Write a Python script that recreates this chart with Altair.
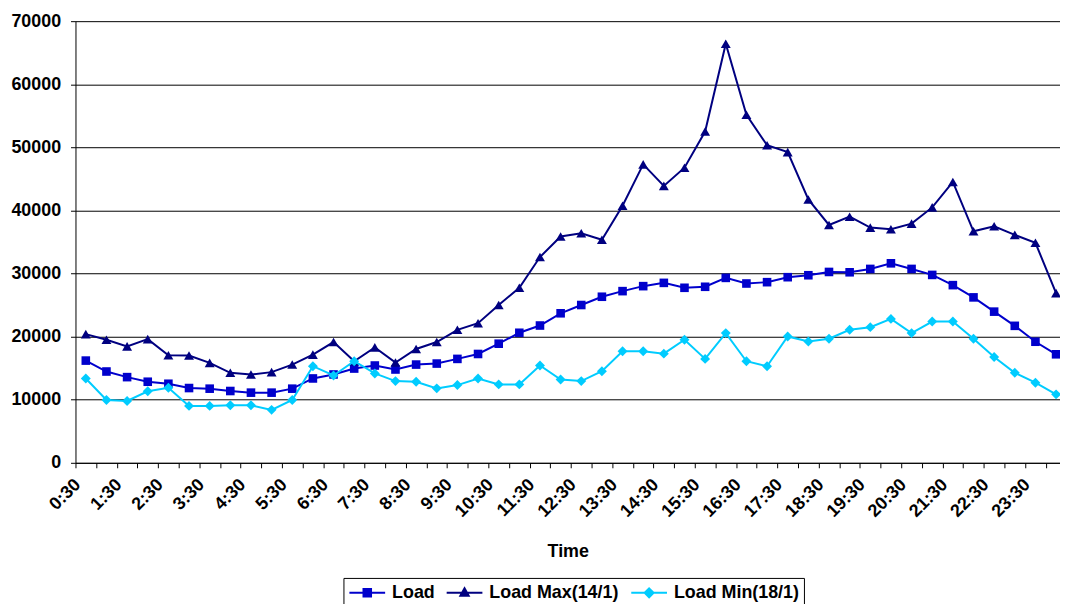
import json
import altair as alt
import pandas as pd

times = ["0:30", "1:00", "1:30", "2:00", "2:30", "3:00", "3:30", "4:00", "4:30", "5:00",
         "5:30", "6:00", "6:30", "7:00", "7:30", "8:00", "8:30", "9:00", "9:30", "10:00",
         "10:30", "11:00", "11:30", "12:00", "12:30", "13:00", "13:30", "14:00", "14:30", "15:00",
         "15:30", "16:00", "16:30", "17:00", "17:30", "18:00", "18:30", "19:00", "19:30", "20:00",
         "20:30", "21:00", "21:30", "22:00", "22:30", "23:00", "23:30", "24:00"]

load = [16200, 14470, 13580, 12850, 12530, 11850, 11750, 11380, 11120, 11120,
        11750, 13370, 14000, 14940, 15420, 14790, 15570, 15730, 16470, 17250,
        18880, 20610, 21760, 23700, 25010, 26320, 27210, 28000, 28520, 27740,
        27900, 29310, 28420, 28630, 29420, 29730, 30250, 30200, 30730, 31620,
        30730, 29780, 28160, 26220, 23960, 21710, 19190, 17200]

load_max = [20400, 19500, 18450, 19600, 17040, 17000, 15840, 14270, 14000, 14370,
            15570, 17150, 19140, 16100, 18300, 15900, 18040, 19140, 21080, 22130,
            25010, 27740, 32610, 35870, 36390, 35350, 40740, 47300, 43890, 46770,
            52500, 66430, 55170, 50340, 49240, 41740, 37700, 39010, 37280, 37020,
            37910, 40480, 44520, 36700, 37490, 36130, 34870, 26900]

load_min = [13370, 9960, 9800, 11330, 11900, 9020, 9020, 9120, 9120, 8390,
            9960, 15310, 13840, 16100, 14160, 12950, 12850, 11800, 12320, 13370,
            12430, 12430, 15420, 13210, 12950, 14520, 17670, 17670, 17300, 19510,
            16470, 20560, 16100, 15310, 20030, 19240, 19660, 21080, 21500, 22810,
            20560, 22390, 22390, 19660, 16780, 14270, 12700, 10850]

series_names = ["Load", "Load Max(14/1)", "Load Min(18/1)"]
series_values = [load, load_max, load_min]
colors = ["#0000CC", "#000080", "#00CCFF"]
shapes = ["square", "triangle-up", "diamond"]
marker_sizes = [75, 100, 100]
legend_paths = [
    "M-1.8,0H1.8M-0.38,-0.38H0.38V0.38H-0.38Z",
    "M-1.8,0H1.8M0,-0.45L0.42,0.3H-0.42Z",
    "M-1.8,0H1.8M0,-0.45L0.45,0L0,0.45L-0.45,0Z",
]
y_ticks = [0, 10000, 20000, 30000, 40000, 50000, 60000, 70000]

rows = []
for name, vals in zip(series_names, series_values):
    for i, v in enumerate(vals):
        rows.append({"idx": i, "time": times[i], "series": name, "value": v})
df = pd.DataFrame(rows)

FONT = "Liberation Sans"
AXIS_FS = 18
tick_positions = [k - 0.5 for k in range(len(times))]
times_js = json.dumps(times)
label_expr = (
    "(round(datum.value + 0.5) % 2 == 0) ? "
    + times_js
    + "[round(datum.value + 0.5)] : ''"
)

x_axis = alt.Axis(
    values=tick_positions,
    labelExpr=label_expr,
    labelAngle=315,
    labelAlign="right",
    labelBaseline="middle",
    labelOffset=2,
    labelPadding=14,
    labelOverlap=False,
    labelFlush=False,
    labelFont=FONT,
    labelFontSize=AXIS_FS,
    labelFontWeight="bold",
    labelColor="black",
    tickSize=5,
    tickColor="black",
    domainColor="black",
    grid=False,
    title="Time",
    titleFont=FONT,
    titleFontSize=18,
    titleFontWeight="bold",
    titleColor="black",
    titlePadding=22,
)
y_axis = alt.Axis(
    values=y_ticks,
    format="d",
    tickSize=5,
    tickColor="black",
    domainColor="black",
    labelPadding=10,
    labelFont=FONT,
    labelFontSize=AXIS_FS,
    labelFontWeight="bold",
    labelColor="black",
    grid=True,
    gridColor="black",
    gridOpacity=1,
    title=None,
)

x_enc = alt.X("idx:Q", scale=alt.Scale(domain=[-0.5, 47.19], nice=False, zero=False), axis=x_axis)
y_enc = alt.Y("value:Q", scale=alt.Scale(domain=[0, 70000], nice=False, zero=True), axis=y_axis)

legend_layer = (
    alt.Chart(df)
    .transform_filter("datum.idx < 0")
    .mark_point(filled=True, opacity=1, strokeWidth=2)
    .encode(
        color=alt.Color("series:N", scale=alt.Scale(domain=series_names, range=colors),
                        legend=alt.Legend(title=None)),
        stroke=alt.Stroke("series:N", scale=alt.Scale(domain=series_names, range=colors),
                          legend=alt.Legend(title=None)),
        shape=alt.Shape("series:N", scale=alt.Scale(domain=series_names, range=legend_paths),
                        legend=alt.Legend(title=None)),
    )
)

layers = [legend_layer]
for name, col, shp, sz in zip(series_names, colors, shapes, marker_sizes):
    base = alt.Chart(df).transform_filter(alt.datum.series == name)
    layers.append(base.mark_line(color=col, strokeWidth=2).encode(x=x_enc, y=y_enc))
    layers.append(
        base.mark_point(shape=shp, filled=True, color=col, size=sz, opacity=1).encode(x=x_enc, y=y_enc)
    )

chart = (
    alt.layer(*layers)
    .properties(
        width=992,
        height=445,
        autosize=alt.AutoSizeParams(type="none"),
        padding={"left": 68, "top": 11, "right": 0, "bottom": 140},
        background="white",
    )
    .configure_view(strokeWidth=0)
    .configure_legend(
        orient="none",
        legendX=270,
        legendY=561,
        direction="horizontal",
        strokeColor="black",
        fillColor="white",
        padding=4,
        labelFont=FONT,
        labelFontSize=18,
        labelFontWeight="bold",
        labelColor="black",
        labelOffset=14,
        symbolOffset=9,
        symbolSize=400,
        symbolStrokeWidth=2,
        symbolOpacity=1,
        columnPadding=8,
    )
)

chart.save("out.html", embed_options={"renderer": "svg", "actions": False})
